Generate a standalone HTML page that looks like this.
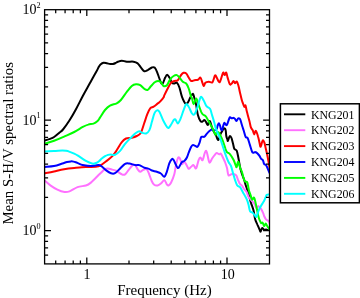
<!DOCTYPE html>
<html><head><meta charset="utf-8"><title>Mean S-H/V spectral ratios</title>
<style>html,body{margin:0;padding:0;background:#fff;overflow:hidden}body{width:360px;height:298px;position:relative}</style></head>
<body>
<svg width="360" height="298" viewBox="0 0 360 298" style="position:absolute;left:0;top:0">
<rect x="0" y="0" width="360" height="298" fill="#fff"/>
<clipPath id="cp"><rect x="44.6" y="9.7" width="224.9" height="254.2"/></clipPath>
<g clip-path="url(#cp)" fill="none" stroke-width="2.0" stroke-linejoin="round" stroke-linecap="round">
<path d="M44.6 140.4C45.5 140.2 48.4 139.5 50.0 138.9C51.6 138.3 52.6 138.0 54.1 137.0C55.6 136.0 57.6 134.2 59.1 132.9C60.6 131.7 61.3 131.6 63.0 129.5C64.7 127.4 67.2 123.9 69.4 120.5C71.6 117.1 73.9 113.1 76.1 109.0C78.3 104.9 80.5 100.4 82.8 96.0C85.1 91.6 87.8 87.0 90.1 82.8C92.4 78.6 95.3 73.3 96.8 70.7C98.2 68.1 98.1 68.0 98.8 66.9C99.5 65.8 100.0 65.0 100.8 64.3C101.6 63.6 102.5 63.0 103.5 62.8C104.5 62.6 105.8 63.1 106.9 63.3C108.0 63.5 109.2 63.9 110.2 64.0C111.2 64.1 112.0 64.2 112.9 64.0C113.8 63.8 114.8 63.4 115.6 63.0C116.4 62.6 117.0 62.1 118.0 61.7C119.0 61.3 120.3 60.7 121.8 60.7C123.3 60.7 124.8 61.5 126.8 61.7C128.8 61.9 131.7 61.4 133.5 61.7C135.3 62.0 136.4 62.4 137.7 63.4C138.9 64.4 139.9 66.3 141.0 67.6C142.1 68.9 143.3 70.9 144.4 71.3C145.5 71.7 146.4 70.7 147.7 70.1C148.9 69.5 150.8 67.9 151.9 67.5C153.1 67.1 153.8 66.8 154.6 67.5C155.4 68.2 156.3 70.1 157.0 71.8C157.7 73.5 158.3 75.7 159.0 77.5C159.7 79.3 160.4 81.7 161.0 82.7C161.6 83.7 162.0 84.3 162.7 83.5C163.4 82.7 164.4 79.0 165.2 77.6C165.9 76.1 166.5 74.8 167.2 74.8C167.9 74.8 168.6 76.3 169.4 77.6C170.2 78.9 171.1 81.7 171.9 82.7C172.7 83.7 173.3 83.5 174.1 83.5C174.9 83.5 176.0 82.0 176.9 82.7C177.8 83.4 178.7 85.3 179.5 87.7C180.3 90.1 181.0 94.3 182.0 96.9C183.0 99.5 184.3 102.5 185.3 103.4C186.3 104.4 187.0 103.6 187.8 102.6C188.6 101.6 189.5 99.0 190.3 97.5C191.2 96.0 192.2 93.5 192.9 93.7C193.6 93.9 193.9 96.5 194.5 98.4C195.1 100.3 195.6 102.3 196.2 105.1C196.8 107.9 197.2 112.4 197.9 115.1C198.6 117.8 199.7 119.9 200.4 121.0C201.1 122.1 201.5 121.9 202.2 121.7C202.9 121.5 203.8 119.9 204.4 120.0C205.1 120.1 205.5 121.4 206.1 122.2C206.7 123.0 207.2 125.2 207.8 125.0C208.4 124.8 208.9 121.5 209.4 121.1C209.9 120.7 210.2 121.9 210.6 122.8C211.0 123.7 211.2 125.4 211.7 126.7C212.1 128.0 212.6 129.1 213.3 130.6C214.0 132.1 215.3 134.0 216.1 135.6C216.9 137.2 217.6 140.3 218.3 140.0C219.1 139.7 219.9 135.4 220.6 133.9C221.2 132.4 221.6 132.0 222.2 131.1C222.8 130.2 223.3 128.5 223.9 128.3C224.5 128.1 225.2 128.7 225.6 130.0C226.0 131.3 226.0 134.5 226.3 136.0C226.6 137.5 226.9 138.2 227.2 139.0C227.5 139.8 227.6 141.2 227.9 141.0C228.2 140.8 228.7 138.7 229.0 137.8C229.3 137.0 229.6 135.9 230.0 135.9C230.4 135.9 231.0 136.7 231.5 138.0C232.0 139.3 232.5 141.7 233.0 143.5C233.5 145.3 233.7 147.6 234.3 148.8C234.9 150.0 236.1 149.3 236.8 150.9C237.5 152.5 237.9 155.7 238.5 158.5C239.1 161.3 239.6 165.2 240.2 167.7C240.8 170.2 241.1 171.4 241.8 173.5C242.5 175.6 243.7 178.4 244.3 180.2C244.9 182.0 244.8 182.2 245.4 184.2C246.0 186.2 247.2 189.3 248.0 192.0C248.8 194.7 249.8 198.5 250.3 200.4C250.8 202.3 250.6 201.5 251.1 203.2C251.6 204.8 252.8 207.7 253.5 210.3C254.2 213.0 254.4 216.6 255.1 219.1C255.8 221.6 256.9 223.3 257.6 225.1C258.4 226.8 259.1 228.5 259.6 229.6C260.1 230.7 260.2 231.8 260.6 231.6C261.0 231.3 261.5 228.4 262.1 228.1C262.7 227.8 263.4 229.3 264.1 229.6C264.8 229.8 265.6 229.5 266.2 229.6C266.8 229.7 267.1 230.0 267.7 230.1C268.2 230.2 269.2 230.0 269.5 230.0" stroke="#000000"/>
<path d="M44.6 180.5C45.6 181.3 48.6 184.1 50.7 185.6C52.8 187.1 55.1 188.5 57.4 189.6C59.7 190.7 62.5 191.7 64.5 192.0C66.5 192.3 67.3 192.2 69.5 191.4C71.7 190.6 74.8 188.1 77.5 187.1C80.2 186.1 83.7 186.2 85.9 185.5C88.1 184.8 88.8 184.3 90.9 182.6C93.0 180.9 96.6 177.0 98.3 175.3C100.0 173.7 100.0 173.6 101.0 172.7C102.0 171.8 103.2 170.4 104.3 169.7C105.4 169.0 106.5 168.6 107.8 168.6C109.1 168.6 110.7 169.2 112.2 169.6C113.7 170.0 115.1 170.2 116.7 171.0C118.3 171.8 120.4 173.8 121.8 174.3C123.2 174.9 124.0 175.0 125.1 174.3C126.2 173.6 127.2 171.7 128.5 170.2C129.8 168.7 131.6 165.9 132.7 165.1C133.8 164.2 134.4 164.4 135.2 165.1C136.0 165.8 136.9 168.2 137.7 169.3C138.5 170.4 139.2 171.7 140.2 171.8C141.1 171.9 142.3 170.2 143.4 169.8C144.5 169.4 145.7 168.6 146.7 169.3C147.7 170.1 148.4 172.4 149.2 174.3C150.0 176.2 150.9 179.2 151.7 181.0C152.5 182.8 153.2 184.1 154.2 184.8C155.2 185.6 156.5 185.7 157.6 185.5C158.7 185.3 159.8 184.4 160.9 183.5C162.0 182.6 163.3 180.1 164.3 180.2C165.3 180.3 166.1 183.4 166.8 184.3C167.5 185.2 167.8 185.8 168.5 185.5C169.2 185.2 170.0 184.6 171.0 182.7C172.0 180.8 173.5 177.2 174.3 174.3C175.1 171.4 175.3 167.9 176.0 165.1C176.7 162.3 177.5 158.5 178.2 157.5C178.9 156.5 179.6 158.1 180.2 159.2C180.8 160.3 181.3 163.8 181.9 164.2C182.5 164.6 183.2 161.7 183.9 161.7C184.6 161.7 185.3 163.0 186.1 164.2C186.9 165.4 187.8 168.4 188.6 168.8C189.4 169.2 190.3 167.4 191.1 166.8C191.9 166.2 192.8 164.8 193.6 165.1C194.4 165.4 195.3 169.2 196.1 168.4C196.9 167.6 197.9 161.9 198.6 160.1C199.3 158.3 199.7 157.6 200.4 157.6C201.1 157.6 201.9 160.9 202.6 160.2C203.3 159.5 204.0 155.1 204.6 153.5C205.2 151.9 205.8 150.3 206.3 150.9C206.9 151.5 207.4 154.8 207.9 156.8C208.4 158.8 208.9 162.4 209.6 162.7C210.3 163.0 211.3 159.8 212.1 158.5C212.9 157.2 213.8 156.0 214.6 155.1C215.4 154.2 215.9 153.2 216.7 153.1C217.5 153.0 218.5 154.2 219.2 154.3C219.9 154.4 220.2 153.1 220.9 153.8C221.6 154.5 222.7 157.1 223.4 158.5C224.1 159.9 224.4 160.4 225.0 162.0C225.6 163.6 226.4 165.8 227.0 168.0C227.6 170.2 227.7 174.3 228.5 175.3C229.3 176.3 230.7 174.1 232.0 174.1C233.3 174.1 235.1 174.3 236.1 175.3C237.1 176.3 237.4 178.6 238.1 180.1C238.8 181.6 239.4 183.2 240.1 184.1C240.8 185.0 241.3 184.8 242.0 185.6C242.7 186.4 243.2 187.9 244.0 189.0C244.8 190.1 245.8 190.7 246.6 192.0C247.4 193.3 247.7 195.6 248.6 197.1C249.5 198.6 251.1 199.9 252.1 201.1C253.1 202.3 253.8 202.9 254.6 204.1C255.3 205.3 255.9 207.8 256.6 208.1C257.3 208.4 257.8 205.9 258.6 206.1C259.4 206.3 260.4 207.9 261.2 209.1C262.0 210.3 262.7 212.0 263.2 213.2C263.7 214.3 263.6 214.9 264.1 216.0C264.6 217.1 265.4 218.8 266.2 219.6C267.0 220.4 268.1 220.5 268.7 221.1C269.2 221.7 269.4 222.7 269.5 223.0" stroke="#ff70ff"/>
<path d="M44.6 173.2C46.2 172.9 50.8 172.1 54.0 171.4C57.2 170.7 60.7 169.8 64.1 169.2C67.5 168.6 70.6 168.3 74.2 168.0C77.8 167.7 82.3 167.3 85.9 167.1C89.5 166.9 93.6 166.9 95.9 166.7C98.2 166.5 98.2 166.7 100.0 165.7C101.8 164.7 104.6 162.5 106.7 160.9C108.8 159.3 110.9 157.7 112.6 155.9C114.3 154.1 115.2 152.6 116.7 150.3C118.2 148.0 120.2 144.2 121.8 142.2C123.3 140.2 124.3 139.2 126.0 138.5C127.7 137.8 130.0 138.1 131.8 137.7C133.6 137.3 135.3 136.8 136.8 136.0C138.3 135.2 139.7 134.8 140.9 132.7C142.1 130.6 143.0 126.6 144.1 123.5C145.2 120.4 146.3 116.7 147.3 114.2C148.3 111.7 149.1 109.7 150.2 108.4C151.2 107.2 152.3 107.5 153.6 106.7C154.9 105.9 156.7 104.2 157.8 103.4C158.9 102.6 159.1 102.7 160.0 101.7C160.9 100.7 162.8 98.6 163.5 97.5C164.2 96.4 163.7 96.7 164.4 95.2C165.1 93.7 166.6 90.6 167.7 88.5C168.8 86.4 170.0 84.0 171.1 82.7C172.2 81.5 173.3 81.4 174.4 81.0C175.5 80.6 176.7 81.2 177.8 80.2C178.9 79.2 180.1 76.2 181.1 75.0C182.1 73.8 182.8 73.1 183.6 72.8C184.4 72.5 185.3 72.6 186.2 73.4C187.0 74.2 187.9 76.3 188.7 77.6C189.5 78.9 190.2 80.6 191.2 81.0C192.2 81.4 193.4 80.4 194.5 80.2C195.6 80.0 196.9 80.2 197.9 79.8C198.9 79.4 199.7 77.3 200.4 77.6C201.1 77.9 201.6 80.4 202.1 81.8C202.6 83.2 203.1 85.8 203.7 86.0C204.2 86.2 204.6 83.4 205.4 82.7C206.2 82.0 207.6 81.9 208.8 81.8C210.0 81.7 211.5 83.2 212.5 82.2C213.5 81.2 214.3 76.3 215.0 75.5C215.7 74.7 216.0 76.5 216.7 77.6C217.4 78.7 218.5 81.9 219.2 82.2C219.9 82.5 220.2 80.9 220.9 79.3C221.6 77.7 222.5 73.3 223.1 72.6C223.7 71.9 224.2 75.1 224.7 75.1C225.2 75.1 225.7 72.2 226.2 72.6C226.7 73.0 227.0 75.6 227.6 77.6C228.2 79.5 229.1 83.3 229.8 84.3C230.5 85.3 231.2 84.0 231.8 83.5C232.4 83.0 232.9 81.0 233.5 81.0C234.1 81.0 234.5 83.1 235.1 83.2C235.7 83.3 236.2 81.0 236.8 81.5C237.4 82.0 237.9 84.0 238.5 86.0C239.1 88.0 239.6 91.3 240.2 93.6C240.8 95.9 241.4 98.5 241.8 100.0C242.2 101.5 242.3 101.5 242.7 102.6C243.1 103.7 243.8 106.3 244.3 106.8C244.8 107.3 245.1 104.6 245.5 105.4C245.9 106.2 246.2 109.2 246.9 111.8C247.6 114.4 248.7 118.3 249.4 121.0C250.1 123.7 250.4 126.2 251.0 127.7C251.6 129.2 252.2 129.1 252.7 130.2C253.2 131.3 253.7 134.3 254.2 134.4C254.7 134.5 255.2 130.4 255.9 130.8C256.6 131.2 257.5 134.5 258.1 136.7C258.8 138.9 259.4 142.5 259.8 144.2C260.2 145.9 260.2 147.3 260.7 146.7C261.2 146.1 262.0 141.3 262.6 140.6C263.2 139.8 263.6 140.8 264.2 142.2C264.8 143.6 265.3 146.5 265.9 148.9C266.5 151.3 267.0 153.7 267.6 156.7C268.2 159.7 269.2 165.3 269.5 167.0" stroke="#ff0000"/>
<path d="M44.6 167.0C46.2 166.8 51.0 166.7 54.0 166.1C57.0 165.5 60.2 164.2 62.4 163.5C64.6 162.8 65.6 162.3 67.0 162.0C68.4 161.7 69.7 161.5 70.8 161.4C71.9 161.3 72.7 161.4 73.5 161.6C74.3 161.8 74.9 162.0 75.8 162.3C76.7 162.6 77.9 163.2 79.0 163.6C80.1 164.0 80.5 164.5 82.5 164.9C84.5 165.3 88.2 166.0 90.9 166.0C93.6 166.0 96.7 165.0 98.5 165.1C100.3 165.2 100.2 165.4 101.5 166.3C102.8 167.2 104.6 169.2 106.2 170.4C107.8 171.6 109.5 172.8 111.0 173.3C112.5 173.8 113.5 174.0 115.0 173.2C116.5 172.4 118.4 170.1 120.1 168.5C121.8 166.9 123.6 164.6 125.1 163.8C126.6 163.0 127.6 163.3 129.3 163.5C131.0 163.7 133.5 164.8 135.2 165.1C136.9 165.4 137.9 164.6 139.4 165.1C140.9 165.6 142.9 167.2 144.4 167.8C145.9 168.4 147.2 168.2 148.4 168.6C149.7 169.0 150.5 170.0 151.9 170.5C153.3 171.0 155.3 171.3 156.8 171.8C158.3 172.3 159.7 172.7 160.9 173.5C162.2 174.3 163.3 177.1 164.3 176.8C165.3 176.5 166.0 174.0 166.8 171.8C167.6 169.6 168.5 165.5 169.3 163.4C170.1 161.3 171.1 159.8 171.8 159.2C172.5 158.6 172.8 158.7 173.5 159.7C174.2 160.7 175.2 163.7 176.0 165.1C176.8 166.5 177.5 168.1 178.2 168.1C178.9 168.1 179.6 166.1 180.2 165.1C180.8 164.1 181.2 162.8 181.9 162.1C182.6 161.4 183.6 161.7 184.4 160.9C185.2 160.1 186.2 158.9 186.9 157.5C187.6 156.1 188.0 154.4 188.7 152.6C189.4 150.8 190.5 148.1 191.2 146.8C191.9 145.6 192.2 145.2 192.9 145.1C193.6 144.9 194.6 145.6 195.4 145.9C196.2 146.2 196.8 147.4 197.5 146.8C198.2 146.2 199.0 144.2 199.6 142.6C200.2 141.0 200.6 138.2 201.1 137.2C201.6 136.2 202.2 136.8 202.8 136.7C203.4 136.6 203.8 137.2 204.4 136.7C205.1 136.2 205.9 134.8 206.7 133.9C207.5 133.0 208.6 131.8 209.4 131.1C210.2 130.3 210.9 129.5 211.7 129.4C212.4 129.3 213.1 130.7 213.9 130.6C214.7 130.5 216.0 129.8 216.7 128.9C217.3 128.0 217.4 125.9 217.8 125.0C218.2 124.1 218.5 123.2 218.9 123.3C219.3 123.4 219.6 124.6 220.0 125.6C220.4 126.6 220.7 128.7 221.1 129.4C221.5 130.1 221.8 130.6 222.2 130.0C222.6 129.4 222.9 126.8 223.3 125.6C223.7 124.4 223.9 122.9 224.4 122.8C224.9 122.7 225.6 124.7 226.1 125.0C226.6 125.3 226.8 125.2 227.2 124.4C227.6 123.6 228.2 121.2 228.7 120.0C229.2 118.8 229.5 117.5 230.0 117.2C230.5 116.9 231.1 118.2 231.7 118.3C232.2 118.4 232.8 117.7 233.3 117.8C233.9 117.9 234.5 118.4 235.0 118.9C235.5 119.5 235.8 121.2 236.4 121.1C237.0 121.0 237.7 118.6 238.3 118.3C238.9 118.0 239.5 118.0 240.2 119.3C240.8 120.6 241.6 124.1 242.2 126.0C242.8 127.9 243.1 128.7 243.7 130.5C244.3 132.3 245.0 135.8 245.7 137.0C246.3 138.2 246.9 136.7 247.6 138.0C248.3 139.3 249.0 142.2 249.8 144.6C250.6 147.0 251.5 151.2 252.4 152.4C253.3 153.6 254.5 151.8 255.3 152.0C256.2 152.2 256.8 152.8 257.5 153.5C258.2 154.2 258.9 155.0 259.5 155.9C260.1 156.8 260.6 158.1 261.2 158.8C261.8 159.5 262.4 159.3 262.9 160.2C263.4 161.1 263.6 163.2 264.1 164.0C264.6 164.8 265.2 164.1 265.8 164.8C266.4 165.5 266.9 166.6 267.5 168.0C268.1 169.4 269.2 172.2 269.5 173.0" stroke="#0000ff"/>
<path d="M44.6 143.8C46.2 143.3 50.9 142.0 54.1 140.8C57.4 139.6 60.7 138.2 64.1 136.7C67.4 135.2 71.1 133.6 74.2 132.0C77.3 130.4 80.5 128.1 82.8 126.9C85.1 125.7 86.4 125.1 88.2 124.6C90.0 124.0 91.9 124.2 93.5 123.6C95.1 123.0 96.5 121.9 97.6 120.9C98.7 119.9 98.8 119.4 100.0 117.6C101.2 115.8 103.3 112.0 105.0 110.0C106.7 108.0 108.0 106.7 110.0 105.6C112.0 104.5 114.9 104.2 116.7 103.3C118.5 102.4 119.2 101.9 120.9 100.0C122.6 98.1 125.0 94.2 126.8 91.9C128.6 89.6 130.3 87.3 131.8 86.0C133.3 84.7 134.6 84.4 136.0 84.3C137.4 84.2 138.8 84.4 140.2 85.2C141.6 86.0 143.2 88.1 144.4 88.9C145.7 89.7 146.6 90.4 147.7 89.9C148.8 89.4 149.8 87.3 151.1 86.0C152.4 84.7 153.8 82.5 155.3 81.8C156.8 81.0 158.8 80.8 160.2 81.5C161.6 82.2 162.4 85.4 163.5 86.0C164.6 86.6 165.8 86.3 166.9 85.2C168.0 84.1 169.1 80.8 170.2 79.3C171.3 77.8 172.5 76.7 173.6 76.0C174.7 75.3 175.9 74.8 176.9 75.1C177.9 75.4 178.5 76.5 179.5 77.6C180.5 78.7 181.7 80.8 182.8 81.8C183.9 82.8 185.2 82.4 186.2 83.5C187.2 84.6 187.9 86.3 188.7 88.5C189.5 90.7 190.6 95.2 191.2 96.9C191.8 98.6 191.6 97.2 192.0 98.4C192.4 99.6 193.0 104.2 193.7 104.2C194.4 104.2 195.4 98.2 196.2 98.4C197.0 98.6 197.9 102.9 198.7 105.1C199.5 107.3 200.5 110.2 201.2 111.8C201.9 113.3 202.1 113.7 202.8 114.4C203.5 115.1 204.7 115.1 205.6 116.1C206.5 117.1 207.4 119.0 208.3 120.6C209.2 122.2 210.3 124.0 211.1 125.6C211.9 127.2 212.7 128.7 213.3 130.0C213.9 131.3 214.4 132.8 214.8 133.6C215.2 134.4 215.6 134.9 216.0 134.6C216.4 134.3 216.9 132.3 217.4 132.0C217.9 131.7 218.3 132.0 218.8 132.6C219.3 133.2 219.7 134.0 220.4 135.4C221.1 136.8 222.1 138.8 222.9 141.0C223.7 143.2 224.8 146.7 225.4 148.5C226.1 150.3 226.0 150.8 226.8 151.8C227.6 152.8 229.0 153.0 230.1 154.3C231.2 155.6 232.6 158.0 233.5 159.8C234.4 161.6 235.1 163.8 235.6 165.0C236.1 166.2 236.2 167.7 236.6 167.2C237.0 166.7 237.6 162.2 238.1 161.8C238.6 161.4 238.9 163.4 239.3 164.5C239.7 165.6 239.9 167.3 240.3 168.5C240.7 169.7 241.2 169.9 241.8 171.5C242.4 173.1 243.1 176.4 243.6 178.1C244.1 179.8 244.5 180.9 245.1 181.6C245.7 182.3 246.6 181.3 247.1 182.1C247.6 182.9 247.9 185.0 248.2 186.5C248.5 188.0 248.7 189.6 249.1 191.0C249.5 192.4 250.1 193.7 250.6 195.1C251.1 196.5 251.5 199.2 252.1 199.6C252.7 200.0 253.5 197.0 254.1 197.6C254.7 198.2 255.1 201.0 255.6 203.1C256.1 205.2 256.7 208.0 257.1 210.2C257.6 212.3 257.9 214.3 258.3 216.0C258.7 217.7 259.1 218.9 259.6 220.1C260.1 221.3 260.6 222.7 261.1 223.1C261.6 223.5 262.1 222.1 262.6 222.6C263.1 223.1 263.6 225.9 264.1 226.1C264.6 226.3 265.2 223.6 265.7 223.6C266.2 223.6 266.6 225.1 267.2 226.1C267.8 227.1 269.1 228.9 269.5 229.5" stroke="#00ff00"/>
<path d="M44.6 151.4C46.2 151.3 51.0 151.1 54.0 151.0C57.0 150.9 60.4 150.6 62.4 150.6C64.4 150.6 64.9 150.6 66.0 150.8C67.1 151.0 67.7 151.1 69.1 151.6C70.5 152.1 72.8 153.0 74.2 153.6C75.6 154.2 75.5 154.1 77.5 155.3C79.5 156.5 83.4 159.5 85.9 160.9C88.4 162.3 90.9 163.2 92.6 163.6C94.3 163.9 94.9 163.4 96.0 163.0C97.1 162.6 98.0 162.0 99.0 161.2C100.0 160.4 101.1 159.1 102.1 158.3C103.1 157.5 104.1 156.8 105.1 156.2C106.1 155.6 107.1 155.2 108.0 154.9C108.9 154.6 109.3 154.5 110.5 154.5C111.7 154.5 113.5 155.3 115.1 154.7C116.7 154.1 118.4 152.7 120.1 150.9C121.8 149.1 123.4 145.9 125.1 143.8C126.8 141.7 128.4 140.2 130.1 138.5C131.8 136.8 133.7 134.7 135.2 133.5C136.7 132.3 138.1 131.4 139.2 131.3C140.3 131.2 140.8 132.3 141.9 132.7C143.1 133.1 144.8 133.9 146.1 133.5C147.3 133.1 148.4 132.0 149.4 130.1C150.4 128.2 151.1 124.6 151.9 121.8C152.7 119.0 153.6 115.3 154.4 113.4C155.2 111.5 156.2 110.7 157.0 110.4C157.8 110.1 158.3 110.0 159.4 111.8C160.5 113.6 162.1 118.3 163.5 121.0C164.9 123.7 166.6 126.9 167.7 127.7C168.8 128.5 169.2 127.2 170.2 126.0C171.2 124.8 172.8 121.3 173.6 120.2C174.4 119.1 174.6 118.8 175.3 119.3C176.0 119.8 177.0 123.5 177.8 123.5C178.6 123.5 179.3 121.5 180.3 119.3C181.3 117.1 182.6 112.6 183.6 110.1C184.6 107.6 185.3 104.8 186.2 104.2C187.0 103.7 187.7 105.2 188.7 106.8C189.7 108.3 191.0 112.2 192.0 113.5C193.0 114.8 193.7 115.1 194.5 114.3C195.3 113.5 196.1 110.9 197.0 108.4C197.9 105.9 199.1 101.1 199.8 99.2C200.5 97.3 200.7 96.6 201.4 96.9C202.1 97.2 203.1 99.4 203.9 100.9C204.7 102.4 205.4 104.7 206.3 105.9C207.2 107.2 208.9 107.7 209.6 108.4C210.3 109.1 210.2 108.8 210.6 110.0C211.0 111.2 211.6 113.8 212.2 115.6C212.8 117.4 213.3 119.1 213.9 121.1C214.5 123.1 215.1 126.0 215.6 127.8C216.1 129.7 216.6 130.7 217.2 132.2C217.8 133.7 218.7 134.9 219.4 136.7C220.2 138.5 220.8 140.2 221.7 143.0C222.6 145.8 224.0 150.3 225.1 153.4C226.2 156.5 227.4 159.7 228.4 161.8C229.4 163.9 230.2 164.1 231.0 166.0C231.8 167.9 232.3 170.8 233.0 173.1C233.7 175.4 234.4 178.1 235.1 180.1C235.8 182.1 236.3 184.0 237.1 185.2C237.9 186.4 239.4 186.5 240.1 187.2C240.8 187.9 240.9 188.6 241.4 189.5C241.9 190.4 242.4 191.4 243.0 192.5C243.6 193.6 244.4 194.8 245.1 196.1C245.8 197.4 246.5 198.6 247.1 200.1C247.7 201.6 248.1 203.2 248.6 205.1C249.1 206.9 249.4 209.9 250.1 211.2C250.8 212.5 251.8 212.1 252.6 212.7C253.3 213.3 254.0 214.3 254.6 215.0C255.2 215.7 255.7 217.4 256.4 216.7C257.1 216.0 257.8 212.5 258.6 210.6C259.4 208.7 260.4 207.0 261.2 205.5C262.0 204.0 262.9 203.0 263.7 201.6C264.4 200.2 265.2 198.2 265.7 197.1C266.2 196.0 266.1 195.2 266.7 194.8C267.3 194.4 269.0 194.6 269.5 194.6" stroke="#00ffff"/>
</g>
<path d="M55.70 263.90v-3.50M55.70 9.70v3.50M65.08 263.90v-3.50M65.08 9.70v3.50M73.21 263.90v-3.50M73.21 9.70v3.50M80.38 263.90v-3.50M80.38 9.70v3.50M86.80 263.90v-6.40M86.80 9.70v6.40M129.00 263.90v-3.50M129.00 9.70v3.50M153.69 263.90v-3.50M153.69 9.70v3.50M171.21 263.90v-3.50M171.21 9.70v3.50M184.80 263.90v-3.50M184.80 9.70v3.50M195.90 263.90v-3.50M195.90 9.70v3.50M205.28 263.90v-3.50M205.28 9.70v3.50M213.41 263.90v-3.50M213.41 9.70v3.50M220.58 263.90v-3.50M220.58 9.70v3.50M227.00 263.90v-6.40M227.00 9.70v6.40M44.60 255.21h3.50M269.50 255.21h-3.50M44.60 247.82h3.50M269.50 247.82h-3.50M44.60 241.41h3.50M269.50 241.41h-3.50M44.60 235.76h3.50M269.50 235.76h-3.50M44.60 230.70h6.40M269.50 230.70h-6.40M44.60 197.44h3.50M269.50 197.44h-3.50M44.60 177.98h3.50M269.50 177.98h-3.50M44.60 164.17h3.50M269.50 164.17h-3.50M44.60 153.46h3.50M269.50 153.46h-3.50M44.60 144.71h3.50M269.50 144.71h-3.50M44.60 137.32h3.50M269.50 137.32h-3.50M44.60 130.91h3.50M269.50 130.91h-3.50M44.60 125.26h3.50M269.50 125.26h-3.50M44.60 120.20h6.40M269.50 120.20h-6.40M44.60 86.94h3.50M269.50 86.94h-3.50M44.60 67.48h3.50M269.50 67.48h-3.50M44.60 53.67h3.50M269.50 53.67h-3.50M44.60 42.96h3.50M269.50 42.96h-3.50M44.60 34.21h3.50M269.50 34.21h-3.50M44.60 26.82h3.50M269.50 26.82h-3.50M44.60 20.41h3.50M269.50 20.41h-3.50M44.60 14.76h3.50M269.50 14.76h-3.50" stroke="#000" stroke-width="1.25" fill="none"/>
<rect x="44.60" y="9.70" width="224.90" height="254.20" fill="none" stroke="#000" stroke-width="1.3"/>
<g style="font-family:'Liberation Serif','Times New Roman',serif" fill="#000">
<text x="87.1" y="278.7" font-size="14" text-anchor="middle">1</text>
<text x="227.7" y="278.7" font-size="14" text-anchor="middle">10</text>
<text x="22.6" y="14.0" font-size="14">10<tspan font-size="8.2" dy="-6.4">2</tspan></text>
<text x="22.6" y="124.5" font-size="14">10<tspan font-size="8.2" dy="-6.4">1</tspan></text>
<text x="22.6" y="235.0" font-size="14">10<tspan font-size="8.2" dy="-6.4">0</tspan></text>
<text x="164.5" y="295.2" font-size="15" text-anchor="middle">Frequency (Hz)</text>
<text transform="translate(12.9 143.3) rotate(-90)" font-size="14.85" text-anchor="middle">Mean S-H/V spectral ratios</text>
<rect x="280.4" y="103.8" width="79" height="99.0" fill="#fff" stroke="#000" stroke-width="1.5"/>
<path d="M284 114.30H305.3" stroke="#000000" stroke-width="1.9" fill="none"/>
<text x="311" y="118.50" font-size="11.85">KNG201</text>
<path d="M284 130.20H305.3" stroke="#ff70ff" stroke-width="1.9" fill="none"/>
<text x="311" y="134.40" font-size="11.85">KNG202</text>
<path d="M284 146.10H305.3" stroke="#ff0000" stroke-width="1.9" fill="none"/>
<text x="311" y="150.30" font-size="11.85">KNG203</text>
<path d="M284 162.00H305.3" stroke="#0000ff" stroke-width="1.9" fill="none"/>
<text x="311" y="166.20" font-size="11.85">KNG204</text>
<path d="M284 177.90H305.3" stroke="#00ff00" stroke-width="1.9" fill="none"/>
<text x="311" y="182.10" font-size="11.85">KNG205</text>
<path d="M284 193.80H305.3" stroke="#00ffff" stroke-width="1.9" fill="none"/>
<text x="311" y="198.00" font-size="11.85">KNG206</text>
</g>
</svg>
</body></html>
